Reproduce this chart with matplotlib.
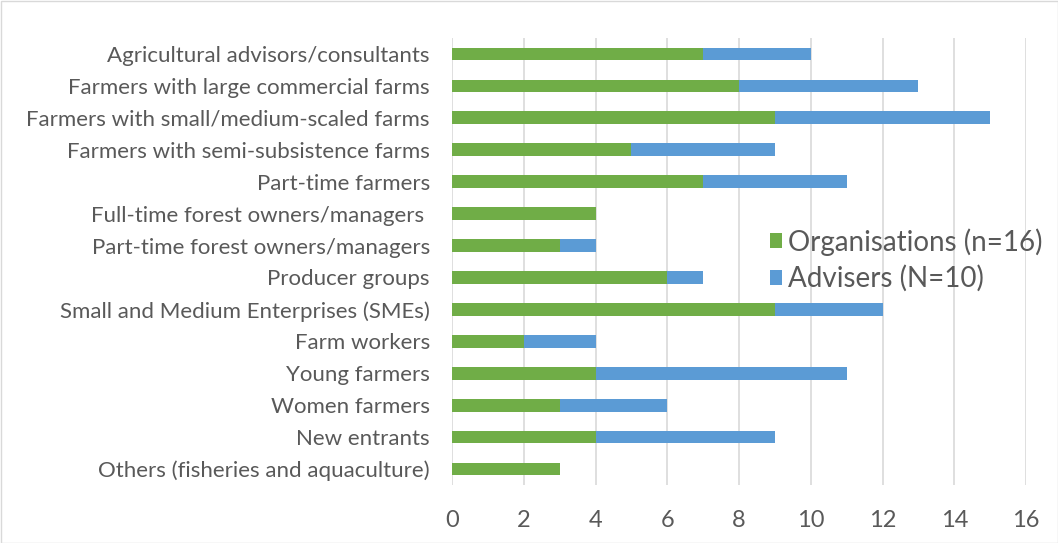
import matplotlib
matplotlib.use("Agg")
import matplotlib.pyplot as plt
from matplotlib.patches import Rectangle

categories = [
    "Agricultural advisors/consultants",
    "Farmers with large commercial farms",
    "Farmers with small/medium-scaled farms",
    "Farmers with semi-subsistence farms",
    "Part-time farmers",
    "Full-time forest owners/managers ",
    "Part-time forest owners/managers",
    "Producer groups",
    "Small and Medium Enterprises (SMEs)",
    "Farm workers",
    "Young farmers",
    "Women farmers",
    "New entrants",
    "Others (fisheries and aquaculture)",
]
organisations = [7, 8, 9, 5, 7, 4, 3, 6, 9, 2, 4, 3, 4, 3]
advisers = [3, 5, 6, 4, 4, 0, 1, 1, 3, 2, 7, 3, 5, 0]
series_names = ["Organisations (n=16)", "Advisers (N=10)"]
xticks = [0, 2, 4, 6, 8, 10, 12, 14, 16]

plt.rcParams['font.family'] = ['Lato', 'DejaVu Sans']
txt = '#595959'
green = '#70AD47'
blue = '#5B9BD5'

fig = plt.figure(figsize=(10.58, 5.43), dpi=100)
ax = fig.add_axes([452/1058, 1-485/543, (1026-452)/1058, (485-38)/543])

y = list(range(len(categories)))
ax.barh(y, organisations, height=0.4, color=green, label=series_names[0], zorder=3)
ax.barh(y, advisers, left=organisations, height=0.4, color=blue, label=series_names[1], zorder=3)

ax.set_ylim(len(categories)-0.5, -0.5)
ax.set_xlim(0, 16)
ax.set_xticks(xticks)
ax.set_yticks(y)
ax.set_yticklabels(categories, fontsize=16, color=txt)
ax.tick_params(axis='x', labelsize=17, colors=txt, length=0, pad=18)
ax.tick_params(axis='y', length=0, pad=16)
ax.grid(axis='x', color='#d9d9d9', linewidth=1.2, zorder=0)
for s in ax.spines.values():
    s.set_visible(False)

leg = ax.legend(loc='upper left', bbox_to_anchor=((770-452)/(1026-452), 1-(228-38)/(485-38)),
                frameon=False, fontsize=20, handlelength=0.43, handleheight=0.43,
                handletextpad=0.22, labelspacing=0.35, borderaxespad=0, borderpad=0)
for t in leg.get_texts():
    t.set_color(txt)

fig.patches.append(Rectangle((0.5/1058, 0.5/543), 1-1/1058, 1-1/543, transform=fig.transFigure,
                             fill=False, edgecolor='#d9d9d9', linewidth=1))

fig.savefig('out.png', dpi=100)
